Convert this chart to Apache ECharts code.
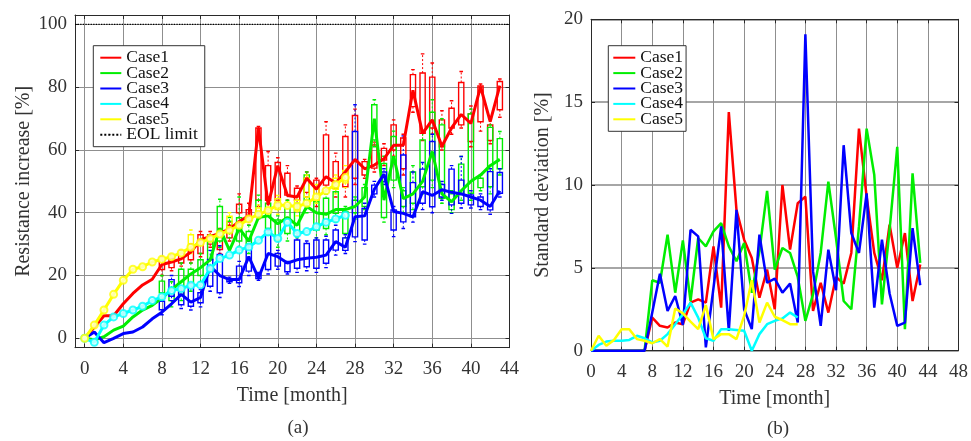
<!DOCTYPE html>
<html><head><meta charset="utf-8">
<script src="https://cdn.jsdelivr.net/npm/echarts@6/dist/echarts.min.js"></script>
<style>html,body{margin:0;padding:0;background:#fff}#c{width:971px;height:441px}</style>
</head><body><div id="c"></div>
<script>
// ---------- data ----------
const months = [0,1,2,3,4,5,6,7,8,9,10,11,12,13,14,15,16,17,18,19,20,21,22,23,24,25,26,27,28,29,30,31,32,33,34,35,36,37,38,39,40,41,42,43];
const caseNames = ['Case1','Case2','Case3','Case4','Case5'];
const caseColors = ['#ff0000','#00ee00','#0000ff','#00ffff','#ffff00'];
const markerFill = ['#ffffff','#ffffff','#ffffff','#d8ffff','#ffffd0'];

// (a) resistance increase [%]
const resCase1 = [0,3.5,7.2,7.2,11,14.3,17,18.8,23.5,24.3,25.3,27.5,31.4,32.4,33.5,34.8,37.2,39,67,42.5,55,45.5,45,51,47.5,51.5,49.5,53,57,54,55.2,57.2,61.5,61.5,79,65.3,69.6,61.2,67,71.3,68.5,80.2,69,80.5];
const resCase2 = [0,-0.5,0.5,2.6,3.9,6.8,9,10.5,12.8,15.5,18,20.5,22.5,25,35,28,35,31,38.5,39,36.5,38.5,36,42,40,39.5,41,41,42,45,70,44,58,44.5,46,50,59.5,46,43.5,47,50,52,55,57];
const resCase3 = [0,2,-1.4,0,1.5,2,3.6,6.2,8.3,11,14,11.5,13,23,20,18.7,18.7,26,19.2,27,26,24,25,25.5,25.8,26.5,30.8,29,38.7,39,47.5,52.3,40.4,39.8,38.7,46.7,45.5,47.3,46.5,46,45,44,42,47];
const resCase4 = [0,-1.3,4.2,6.8,7.9,9,10.2,12,13.2,15.2,15.8,16.9,17,22.2,25.4,26.5,28.1,29.1,31.2,33.9,31.8,37,33.4,34,35.5,37,38,39.2];
const resCase5 = [0,4.2,9,14,18.5,22,22.8,24.3,25.2,26,27.2,29,30.5,31.8,33.2,34.4,36,38,39.5,40.7,42.5,42.3,42,43,45,47,49,51.2];
const eolLimit = [[-1,100],[44,100]];

// box data: [month, lower whisker, Q1, Q3, upper whisker]
const case1Box = [[8,20,21.9,25,26],[9,21.5,22.5,25.5,26.5],[10,23,24,27,28],[11,24,25,28.8,30],[12,26,27,33,34],[13,29,30,33,34],[14,27,28.3,33,35],[15,31,32,36,37],[16,37,40,42.7,46],[17,36,37.5,41,43],[18,42,44,67,67.5],[19,41,44,55,59.5],[20,43,44,56,57.5],[21,44,45.6,52.6,55],[22,42,44,47.8,48.5],[23,45,46.5,51,53],[24,42,44,50.4,51],[25,46,48.8,64.8,69],[26,45,47.8,56.3,59],[27,45,48.3,64.3,68],[28,49,51,71,73],[29,51,52,56.3,57],[30,53,54.2,61.6,62.5],[31,55,56.8,60.5,62],[32,58,60,68,69.6],[33,52,54,63.8,65],[34,72,73.8,84,85.6],[35,63,65.3,84.5,90.6],[36,65,67,83.2,87.7],[37,60,61,69.6,72.5],[38,65,67,73.3,75.7],[39,67,68,81.5,85],[40,61,62.7,71.5,74],[41,66,69,80.4,81],[42,62,63,68,70],[43,70.4,72.8,81.8,82.6]];
const case2Box = [[8,12,14.5,18.2,20],[9,10,12,16,18],[10,12,14,22,24],[11,15,17,22,24],[12,18,20,25,27],[13,23,25,31,33],[14,29,31,42,44.3],[15,32,33.6,37.3,38.5],[16,29,31,38.4,45],[17,27,30,34,36],[18,38,39.8,44,45.6],[19,33,35,43,45],[20,29,31.3,37.7,39],[21,31,33.4,42,44],[22,32,33.5,41,43],[23,40,44,52,53],[24,32,34.5,43.5,45],[25,33,35,44.6,46],[26,37,39.8,46.7,48],[27,32,33.4,40.3,42],[28,38,40,44,45],[29,41,42,48,49],[30,61,63.2,74.4,76],[31,37,38.5,55.7,58],[32,48,50.4,64.3,66],[33,40,42,47,48],[34,41,43,53,55],[35,46,48.3,63.2,66],[36,48,50.4,72,76],[37,43,44.6,68,70],[38,40,41,46,47],[39,44,46.2,55.5,57.9],[40,44,46.2,71.5,73],[41,47,48,51,52],[42,46,48.3,67.2,68],[43,52,54,63.6,65.9]];
const case3Box = [[8,7.5,9.1,11.8,13],[9,12,13.4,18.7,20],[10,9.5,10.7,15,16],[11,9,10.2,16.6,17.5],[12,10,11.3,14.5,15.5],[13,15,16.6,25.1,28],[14,13,14.5,26.7,29.5],[15,17.5,18,19,19.5],[16,16.5,17.7,23,24.5],[17,20,21.4,29.4,31],[18,18.5,19,20.5,21],[19,20.5,21.9,33.1,34.5],[20,22,23,27,28],[21,20.5,21.2,23.9,24.5],[22,21,22.3,31.3,32.5],[23,21.5,22.8,30.2,31],[24,21,22.3,31.3,32],[25,22.5,23.9,31.3,32.5],[26,26.5,28.1,34.5,36],[27,27,28,32,33],[28,30.8,32.3,65.9,74.4],[29,30,31.3,41.4,43],[30,45,46,48.8,50],[31,49,50,53,54],[32,32.4,34.5,40.9,42],[33,35,37.1,58.4,64.5],[34,37,38.7,49.6,53],[35,41,43,53.9,56],[36,40,41.9,62.7,65],[37,44,45,49,50],[38,39.8,42.5,53.9,55],[39,41.5,43,50.4,57.9],[40,41.5,42.5,45.7,47],[41,41,42,45,46],[42,39.5,40.9,53.1,54],[43,45,46.2,52.8,54]];
const case5Box = [[11,27,28.5,33,34.5],[15,34,35.5,38.9,40],[18,38,39,41.5,42.5],[20,39.5,41,44.5,45.5],[22,39,40.5,44,45],[23,42,45,51,52],[24,43,44,48,49],[26,46,47.5,51,52],[27,48,49.5,53.5,55]];

// (b) standard deviation [%]
const sdCase1 = [0,0,0,0,0,0,0,0,2.0,1.5,1.4,1.7,1.6,2.9,3.1,2.9,6.3,2.6,14.4,8.5,6.7,5.6,3.2,4.9,2.5,10.0,6.1,8.9,9.3,2.4,4.1,2.3,4.45,4.05,5.9,13.4,9.3,5.9,4.25,7.6,5.0,7.1,3.0,5.2];
const sdCase2 = [0,0,0,0,0,0,0,0,4.25,4.1,7.0,3.5,6.65,3.0,6.8,6.3,7.2,7.7,6.3,5.4,6.5,3.5,6.0,9.65,4.9,6.2,5.9,4.45,1.8,3.4,5.9,10.2,6.8,3.0,2.5,7.5,13.4,10.6,2.8,7.3,12.3,1.3,10.7,5.3];
const sdCase3 = [0,0,0,0,0,0,0,0,2.3,4.65,2.4,3.3,1.55,7.3,6.9,0.2,3.8,7.5,1.2,8.5,2.5,1.3,7.0,4.1,4.35,3.5,4.05,1.7,19.1,4.8,1.5,6.1,3.65,12.4,7.1,5.9,9.5,2.6,6.7,3.45,1.5,1.7,7.4,3.95];
const sdCase4 = [0,0.35,0.55,0.6,0.6,0.65,0.9,0.75,0.5,0.6,1.0,1.6,2.2,2.9,2.0,0.75,0.6,1.3,1.3,1.25,1.2,0,1.0,1.6,1.8,1.95,2.3,2.0];
const sdCase5 = [0,0.9,0.3,0.65,1.3,1.3,0.7,0.6,0.45,0.7,0.25,2.55,2.25,1.75,1.3,2.75,0.7,1.0,1.0,0.7,2.1,4.25,1.7,2.9,2.05,1.85,1.6,1.6];

// tick labels
const xTicksA = [0,4,8,12,16,20,24,28,32,36,40,44];
const yTicksA = [0,20,40,60,80,100];

// ---------- chart ----------
const FONT = 'Liberation Serif';
const TXT = '#333333';
const FRAME = '#2a2a2a';
const GRIDC = '#8f8f8f';
const pairs = arr => arr.map((v, i) => [months[i], v]);

function boxRender(color) {
  return function (params, api) {
    const x = api.value(0);
    const lo = api.coord([x, api.value(1)]);
    const q1 = api.coord([x, api.value(2)]);
    const q3 = api.coord([x, api.value(3)]);
    const hi = api.coord([x, api.value(4)]);
    const cx = lo[0], hw = 2.6, cw = 1.8;
    const solid = {stroke: color, lineWidth: 1.4, fill: null};
    const dash = {stroke: color, lineWidth: 1, lineDash: [2, 2], fill: null};
    return {type: 'group', children: [
      {type: 'rect', shape: {x: cx - hw, y: q3[1], width: 2 * hw, height: q1[1] - q3[1]}, style: {stroke: color, lineWidth: 1.4, fill: 'rgba(0,0,0,0)'}},
      {type: 'line', shape: {x1: cx, y1: q3[1], x2: cx, y2: hi[1]}, style: dash},
      {type: 'line', shape: {x1: cx, y1: q1[1], x2: cx, y2: lo[1]}, style: dash},
      {type: 'line', shape: {x1: cx - cw, y1: hi[1], x2: cx + cw, y2: hi[1]}, style: solid},
      {type: 'line', shape: {x1: cx - cw, y1: lo[1], x2: cx + cw, y2: lo[1]}, style: solid}
    ]};
  };
}

const labelStyle = {color: TXT, fontFamily: FONT, fontSize: 19};
const nameStyle = {color: TXT, fontFamily: FONT, fontSize: 20};

function frameAxis(extra) {
  return Object.assign({
    type: 'value',
    axisLine: {show: true, onZero: false, lineStyle: {color: FRAME, width: 1}},
    axisTick: {show: true, inside: true, length: 4, lineStyle: {color: FRAME}},
    axisLabel: {show: false},
    splitLine: {show: false}
  }, extra);
}

const xAxis = [
  frameAxis({gridIndex: 0, position: 'bottom', min: -1, max: 44,
    axisTick: {show: true, inside: true, length: 4, lineStyle: {color: FRAME}, customValues: xTicksA},
    axisLabel: Object.assign({show: true, margin: 12, customValues: xTicksA}, labelStyle),
    splitLine: {show: true, lineStyle: {color: GRIDC, width: 1}},
    name: 'Time [month]', nameLocation: 'middle', nameGap: 38, nameTextStyle: nameStyle}),
  frameAxis({gridIndex: 0, position: 'top', min: -1, max: 44,
    axisTick: {show: true, inside: true, length: 4, lineStyle: {color: FRAME}, customValues: xTicksA}}),
  frameAxis({gridIndex: 1, position: 'bottom', min: 0, max: 48, interval: 4,
    axisLabel: Object.assign({show: true, margin: 12}, labelStyle),
    splitLine: {show: true, lineStyle: {color: GRIDC, width: 1}},
    name: 'Time [month]', nameLocation: 'middle', nameGap: 38, nameTextStyle: nameStyle}),
  frameAxis({gridIndex: 1, position: 'top', min: 0, max: 48, interval: 4})
];
const yAxis = [
  frameAxis({gridIndex: 0, position: 'left', min: -3, max: 103,
    axisTick: {show: true, inside: true, length: 4, lineStyle: {color: FRAME}, customValues: yTicksA},
    axisLabel: Object.assign({show: true, margin: 8, customValues: yTicksA}, labelStyle),
    splitLine: {show: true, lineStyle: {color: GRIDC, width: 1}},
    name: 'Resistance increase [%]', nameLocation: 'middle', nameGap: 41, nameTextStyle: nameStyle}),
  frameAxis({gridIndex: 0, position: 'right', min: -3, max: 103,
    axisTick: {show: true, inside: true, length: 4, lineStyle: {color: FRAME}, customValues: yTicksA}}),
  frameAxis({gridIndex: 1, position: 'left', min: 0, max: 20, interval: 5,
    axisLabel: Object.assign({show: true, margin: 8}, labelStyle),
    splitLine: {show: true, lineStyle: {color: '#888888', width: 1.5}},
    name: 'Standard deviation [%]', nameLocation: 'middle', nameGap: 38, nameTextStyle: nameStyle}),
  frameAxis({gridIndex: 1, position: 'right', min: 0, max: 20, interval: 5})
];

const series = [];
const boxSets = [[case1Box, 0], [case2Box, 1], [case3Box, 2], [case5Box, 4]];
boxSets.forEach(([arr, ci]) => {
  series.push({type: 'custom', name: caseNames[ci] + ' box', xAxisIndex: 0, yAxisIndex: 0,
    data: arr, encode: {x: 0, y: [1, 2, 3, 4]}, renderItem: boxRender(caseColors[ci]), z: 1, clip: true, silent: true});
});
const resSets = [resCase1, resCase2, resCase3, resCase4, resCase5];
resSets.forEach((arr, ci) => {
  series.push({type: 'line', name: caseNames[ci], xAxisIndex: 0, yAxisIndex: 0, data: pairs(arr),
    symbol: 'none', lineStyle: {color: caseColors[ci], width: 3}, itemStyle: {color: caseColors[ci]}, z: 3});
});
[3, 4].forEach(ci => {
  series.push({type: 'scatter', name: caseNames[ci] + ' marker', xAxisIndex: 0, yAxisIndex: 0, data: pairs(resSets[ci]),
    symbol: 'circle', symbolSize: 7, itemStyle: {color: markerFill[ci], borderColor: caseColors[ci], borderWidth: 2}, z: 4, silent: true});
});
series.push({type: 'line', name: 'EOL limit', xAxisIndex: 0, yAxisIndex: 0, data: eolLimit, symbol: 'none',
  lineStyle: {color: '#000000', width: 1.3, type: 'dotted'}, itemStyle: {color: '#000000'}, z: 2});
const sdSets = [sdCase1, sdCase2, sdCase3, sdCase4, sdCase5];
sdSets.forEach((arr, ci) => {
  series.push({type: 'line', name: caseNames[ci], xAxisIndex: 2, yAxisIndex: 2, data: pairs(arr),
    symbol: 'none', lineStyle: {color: caseColors[ci], width: 2.5}, itemStyle: {color: caseColors[ci]}, z: 3});
});

const legendText = {fontFamily: FONT, fontSize: 17.5, color: '#111'};
const option = {
  animation: false,
  backgroundColor: '#ffffff',
  grid: [
    {left: 75, right: 461.5, top: 15, bottom: 93.3},
    {left: 591, right: 11, top: 19.3, bottom: 90.3}
  ],
  xAxis: xAxis,
  yAxis: yAxis,
  legend: [
    {data: caseNames.concat(['EOL limit']), orient: 'vertical', left: 93.3, top: 45.7,
      itemWidth: 21, itemHeight: 1, itemGap: -2.6, padding: [3, 7, 3, 6], selectedMode: false,
      borderColor: '#333', borderWidth: 1, backgroundColor: '#fff', textStyle: legendText},
    {data: caseNames, orient: 'vertical', left: 608.3, top: 45.7,
      itemWidth: 22, itemHeight: 1, itemGap: -2.6, padding: [3, 3, 3, 4], selectedMode: false,
      borderColor: '#333', borderWidth: 1, backgroundColor: '#fff', textStyle: legendText}
  ],
  graphic: [
    {type: 'text', x: 298, y: 428, style: {text: '(a)', fill: TXT, fontFamily: FONT, fontSize: 19, align: 'center', verticalAlign: 'middle'}},
    {type: 'text', x: 778, y: 429, style: {text: '(b)', fill: TXT, fontFamily: FONT, fontSize: 19, align: 'center', verticalAlign: 'middle'}}
  ],
  series: series
};
const chart = echarts.init(document.getElementById('c'));
chart.setOption(option);
</script></body></html>
